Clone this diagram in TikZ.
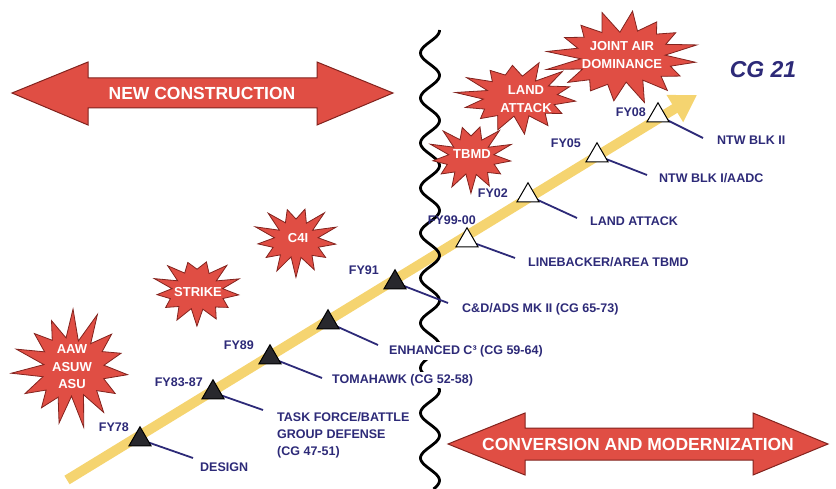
\documentclass[tikz,border=0pt]{standalone}
\usepackage{fontspec}
\setmainfont{Liberation Sans}
\usetikzlibrary{arrows.meta,shapes.geometric}
\definecolor{navy}{RGB}{45,42,120}
\definecolor{redfill}{RGB}{224,78,68}
\definecolor{reddark}{RGB}{130,35,30}
\definecolor{gold}{RGB}{245,212,112}
\definecolor{triblack}{RGB}{40,40,45}
\newcommand\burstat[6]{%
  \pgfmathtruncatemacro\bNm{2*#6-1}%
  \pgfmathtruncatemacro\bNs{2*#6}%
  \draw[burst] plot[domain=0:\bNm, samples=\bNs]
    ({#1+#3*(mod(round(\x),2)==0 ? 1 : #5)*(1+0.10*sin(\x*137))*cos(\x*180/#6+7)},
     {#2+#4*(mod(round(\x),2)==0 ? 1 : #5)*(1+0.10*sin(\x*137))*sin(\x*180/#6+7)}) -- cycle;}
\tikzset{
  lab/.style={font=\fontsize{12.5}{17}\selectfont\bfseries, text=navy, inner sep=0pt},
  fy/.style={lab, anchor=east},
  item/.style={lab, anchor=west, align=left},
  conn/.style={draw=navy, line width=1.8pt},
  oldtri/.style={regular polygon, regular polygon sides=3, minimum size=25.5pt, inner sep=0pt, fill=triblack, draw=black, line width=1pt},
  newtri/.style={oldtri, fill=white},
  burst/.style={fill=redfill, draw=reddark, line width=0.8pt},
  bursttext/.style={font=\fontsize{13}{17.5}\selectfont\bfseries, text=white, align=center, inner sep=0pt},
  banner/.style={fill=redfill, draw=reddark, line width=1pt},
  bannertext/.style={font=\fontsize{17.5}{20}\selectfont\bfseries, text=white, inner sep=0pt},
  wave/.style={draw=black, line width=2.8pt},
  timeline/.style={draw=gold, line width=10pt, -{Triangle[length=26pt,width=30pt]}}
}
\begin{document}
\begin{tikzpicture}[x=1pt,y=-1pt]
\useasboundingbox (0,0) rectangle (836,489);
% timeline
\coordinate (tl0) at (67,480);
\coordinate (tl1) at (697,95);
\draw[timeline] (tl0) -- (tl1);
% wavy divider
\draw[wave] plot[domain=30:489, samples=260, smooth] ({430+9.5*sin(8*\x+206)}, \x);
% connector ends
\coordinate (e78) at (193,458);
\coordinate (e83) at (263,410);
\coordinate (e89) at (322,378);
\coordinate (e59) at (378,345);
\coordinate (e91) at (448,303);
\coordinate (e99) at (515,258);
\coordinate (e02) at (577,218);
\coordinate (e05) at (647,175);
\coordinate (e08) at (703,138);
% marker anchor points
\coordinate (p78) at (140,439.5);
\coordinate (p83) at (213,392.5);
\coordinate (p89) at (270,357.5);
\coordinate (p59) at (328,322.5);
\coordinate (p91) at (395,282.5);
\coordinate (p99) at (467,240.5);
\coordinate (p02) at (528,195.5);
\coordinate (p05) at (597,155.5);
\coordinate (p08) at (658,115.5);
\foreach \k in {78,83,89,59,91,99,02,05,08}{\draw[conn] (p\k) -- (e\k);}
% markers
\node[oldtri] (t78) at (p78) {};
\node[oldtri] (t83) at (p83) {};
\node[oldtri] (t89) at (p89) {};
\node[oldtri] (t59) at (p59) {};
\node[oldtri] (t91) at (p91) {};
\node[newtri] (t99) at (p99) {};
\node[newtri] (t02) at (p02) {};
\node[newtri] (t05) at (p05) {};
\node[newtri] (t08) at (p08) {};
% year labels
\node[fy] (y78) at (129,427) {FY78};
\node[fy] (y83) at (203,382) {FY83-87};
\node[fy] (y89) at (254,345) {FY89};
\node[fy] (y91) at (379,270) {FY91};
\node[fy] (y99) at (476,220) {FY99-00};
\node[fy] (y02) at (508,193) {FY02};
\node[fy] (y05) at (581,143) {FY05};
\node[fy] (y08) at (646,112) {FY08};
% item labels
\node[item] (l78) at (200,467) {DESIGN};
\node[item, anchor=north west] (l83) at (277,412) {TASK FORCE/BATTLE\\GROUP DEFENSE\\(CG 47-51)};
\node[item, fill=white, inner ysep=2pt, inner xsep=1pt] (l89) at (331,380) {TOMAHAWK (CG 52-58)};
\node[item, fill=white, inner ysep=3pt, inner xsep=1pt] (l59) at (388,351) {ENHANCED C³ (CG 59-64)};
\node[item] (l91) at (462,309) {C\&D/ADS MK II (CG 65-73)};
\node[item] (l99) at (528,262) {LINEBACKER/AREA TBMD};
\node[item] (l02) at (590,221) {LAND ATTACK};
\node[item] (l05) at (659,178) {NTW BLK I/AADC};
\node[item] (l08) at (717,140) {NTW BLK II};
% bursts
\burstat{72}{368}{56}{55}{0.56}{15}
\node[bursttext] (s1) at (72,367) {AAW\\ASUW\\ASU};
\burstat{197}{291}{42}{32}{0.62}{13}
\node[bursttext] (s2) at (198,292) {STRIKE};
\burstat{296}{240}{40}{34}{0.56}{13}
\node[bursttext] (s3) at (298,238) {C4I};
\burstat{471}{157}{40}{33}{0.58}{13}
\node[bursttext] (s4) at (472,154) {TBMD};
\burstat{518}{97}{58}{34}{0.62}{14}
\node[bursttext] (s5) at (526,99) {LAND\\ATTACK};
\burstat{623}{57}{73}{43}{0.64}{16}
\node[bursttext] (s6) at (622,55) {JOINT AIR\\DOMINANCE};
% banners
\draw[banner] (12,93) -- (88,62) -- (88,78) -- (317,78) -- (317,62) -- (393,93) -- (317,125) -- (317,108) -- (88,108) -- (88,125) -- cycle;
\node[bannertext] (nc) at (202,93) {NEW CONSTRUCTION};
\draw[banner] (448,444) -- (525,413) -- (525,428) -- (753,428) -- (753,413) -- (828,444) -- (753,475) -- (753,460) -- (525,460) -- (525,475) -- cycle;
\node[bannertext] (cm) at (638,444) {CONVERSION AND MODERNIZATION};
% title
\node[font=\fontsize{23}{26}\selectfont\bfseries\itshape, text=navy, inner sep=0pt] (cg) at (763,70) {CG 21};
\end{tikzpicture}
\end{document}
